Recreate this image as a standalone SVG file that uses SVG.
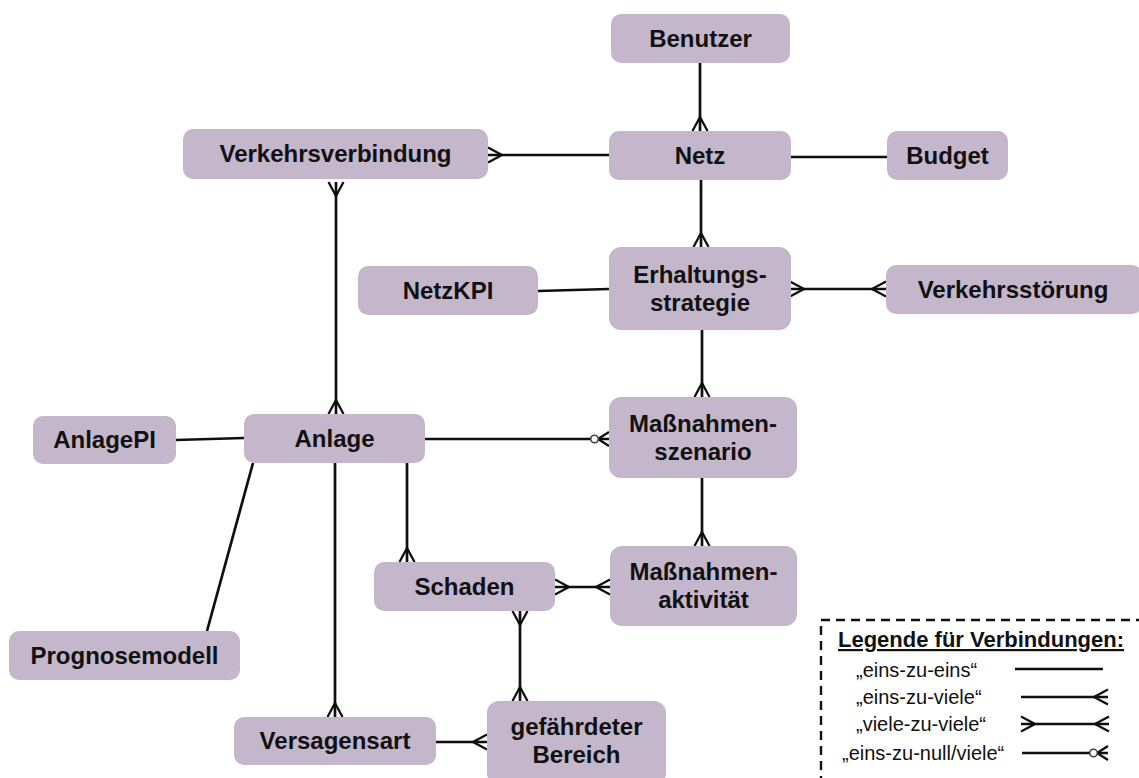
<svg xmlns="http://www.w3.org/2000/svg" width="1139" height="778" viewBox="0 0 1139 778">
<style>
.node rect{fill:#C4B6CB;}
.node text{font-family:"Liberation Sans",Arial,sans-serif;font-weight:bold;font-size:24px;fill:#111111;text-anchor:middle;}
.conn path{fill:none;stroke:#0f0f0f;stroke-width:2.7;}
.many{marker-end:url(#crow);}
.both{marker-start:url(#crow);marker-end:url(#crow);}
.zero{marker-end:url(#zcrow);}
.leg{font-family:"Liberation Sans",Arial,sans-serif;font-size:20px;fill:#111111;}
.legt{font-family:"Liberation Sans",Arial,sans-serif;font-size:22px;font-weight:bold;fill:#111111;text-decoration:underline;}
</style>
<defs>
<marker id="crow" markerUnits="userSpaceOnUse" viewBox="-20 -10 22 20" refX="0" refY="0" markerWidth="22" markerHeight="20" orient="auto-start-reverse" overflow="visible">
<path d="M-14,0 L0,-7.5 M-14,0 L0,7.5" fill="none" stroke="#0f0f0f" stroke-width="2.3"/>
</marker>
<marker id="zcrow" markerUnits="userSpaceOnUse" viewBox="-22 -10 24 20" refX="0" refY="0" markerWidth="24" markerHeight="20" orient="auto" overflow="visible">
<path d="M-11,0 L0,-7 M-11,0 L0,7" fill="none" stroke="#0f0f0f" stroke-width="2.3"/>
<circle cx="-14.5" cy="0" r="3.8" fill="#ffffff" stroke="#3a4a3a" stroke-width="1.6"/>
</marker>
</defs>
<rect width="1139" height="778" fill="#ffffff"/>

<g id="connectors" class="conn">
<path class="many" d="M700,63 L700,131"/>
<path class="many" d="M609,155 L488,155"/>
<path d="M791,157 L887,157"/>
<path class="many" d="M701,180 L701,247"/>
<path d="M538,291 L609,289"/>
<path class="both" d="M790,289 L886,289"/>
<path class="both" d="M336,182 L336,414"/>
<path class="many" d="M702,330 L702,397"/>
<path d="M176,440 L244,438"/>
<path class="zero" d="M425,439 L609,439"/>
<path d="M253,463 L207,631"/>
<path class="many" d="M335,463 L335,717"/>
<path class="many" d="M407,463 L407,562"/>
<path class="many" d="M702,478 L702,546"/>
<path class="both" d="M555,587 L610,587"/>
<path class="both" d="M520,611 L520,701"/>
<path class="many" d="M436,742 L487,742"/>
</g>

<g id="benutzer" class="node"><rect x="611" y="14" width="179" height="49" rx="10"/><text x="700.5" y="47">Benutzer</text></g>
<g id="netz" class="node"><rect x="609" y="131" width="182" height="49" rx="10"/><text x="700" y="164">Netz</text></g>
<g id="budget" class="node"><rect x="887" y="131" width="121" height="49" rx="10"/><text x="947.5" y="164">Budget</text></g>
<g id="verkehrsverbindung" class="node"><rect x="183" y="129" width="305" height="50" rx="10"/><text x="335.5" y="162">Verkehrsverbindung</text></g>
<g id="netzkpi" class="node"><rect x="358" y="266" width="180" height="49" rx="10"/><text x="448" y="299">NetzKPI</text></g>
<g id="erhaltungsstrategie" class="node"><rect x="609" y="247" width="182" height="83" rx="12"/><text x="700" y="283">Erhaltungs-</text><text x="700" y="311">strategie</text></g>
<g id="verkehrsstoerung" class="node"><rect x="886" y="265" width="256" height="49" rx="10"/><text x="1013" y="298">Verkehrsstörung</text></g>
<g id="anlagepi" class="node"><rect x="33" y="416" width="143" height="48" rx="10"/><text x="104.5" y="448">AnlagePI</text></g>
<g id="anlage" class="node"><rect x="244" y="414" width="181" height="49" rx="10"/><text x="334.5" y="447">Anlage</text></g>
<g id="massnahmenszenario" class="node"><rect x="609" y="397" width="188" height="81" rx="12"/><text x="703" y="432">Maßnahmen-</text><text x="703" y="460">szenario</text></g>
<g id="schaden" class="node"><rect x="374" y="562" width="181" height="49" rx="10"/><text x="464.5" y="595">Schaden</text></g>
<g id="massnahmenaktivitaet" class="node"><rect x="610" y="546" width="187" height="80" rx="12"/><text x="703.5" y="580">Maßnahmen-</text><text x="703.5" y="608">aktivität</text></g>
<g id="prognosemodell" class="node"><rect x="9" y="631" width="231" height="49" rx="10"/><text x="124.5" y="664">Prognosemodell</text></g>
<g id="versagensart" class="node"><rect x="234" y="717" width="202" height="48" rx="10"/><text x="335" y="749">Versagensart</text></g>
<g id="gefaehrdeter-bereich" class="node"><rect x="487" y="701" width="179" height="84" rx="12"/><text x="576.5" y="735">gefährdeter</text><text x="576.5" y="763">Bereich</text></g>

<g id="legende">
<rect x="821" y="620" width="330" height="180" fill="none" stroke="#111" stroke-width="2.4" stroke-dasharray="9,6"/>
<text class="legt" x="838" y="647">Legende für Verbindungen:</text>
<text class="leg" x="856" y="677">„eins-zu-eins“</text>
<text class="leg" x="856" y="704">„eins-zu-viele“</text>
<text class="leg" x="856" y="731">„viele-zu-viele“</text>
<text class="leg" x="842" y="760">„eins-zu-null/viele“</text>
<g class="conn">
<path d="M1015,669 L1103,669"/>
<path class="many" d="M1021,697 L1108,697"/>
<path class="both" d="M1021,724 L1109,724"/>
<path class="zero" d="M1022,753 L1108,753"/>
</g>
</g>
</svg>
